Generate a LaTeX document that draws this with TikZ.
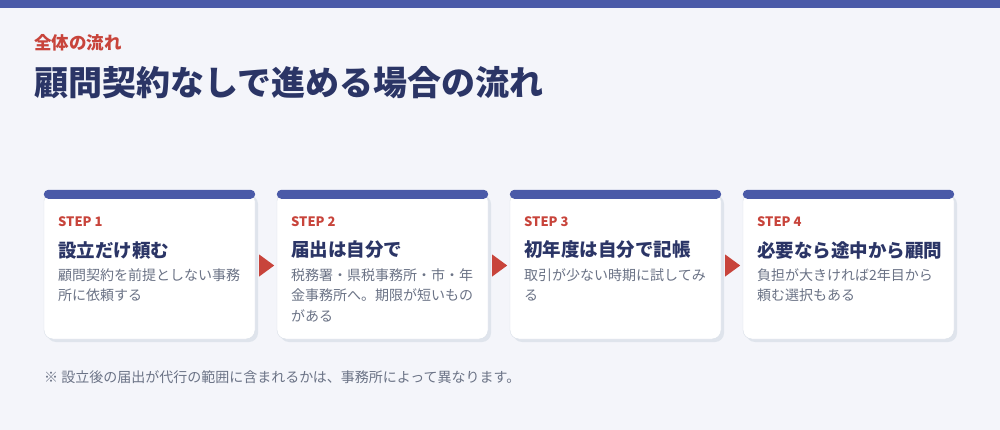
\documentclass[tikz,border=0pt]{standalone}
\usepackage{fontspec}
\setmainfont{Noto Sans CJK JP}
\usetikzlibrary{shadows}
\definecolor{pagebg}{HTML}{F4F5FA}
\definecolor{barblue}{HTML}{4A5AA8}
\definecolor{steprd}{HTML}{C8443B}
\definecolor{navy}{HTML}{2B3566}
\definecolor{bodygray}{HTML}{6B7386}
\definecolor{cardline}{HTML}{D9DFE8}
\definecolor{cardshade}{HTML}{DFE4EC}
\tikzset{
  card/.style={draw=cardline, fill=white, rounded corners=9pt, minimum width=211pt, minimum height=147pt, inner sep=0pt,
    drop shadow={shadow xshift=3pt, shadow yshift=-3pt, fill=cardshade, opacity=1}},
  cardbar/.style={fill=barblue, rounded corners=4.5pt},
  steplabel/.style={anchor=west, inner sep=0pt, text=steprd, font=\bfseries\fontsize{13}{15}\selectfont},
  steptitle/.style={anchor=west, inner sep=0pt, text=navy, font=\bfseries\fontsize{18.5}{22}\selectfont},
  stepbody/.style={anchor=north west, inner sep=0pt, align=left, text=bodygray, font=\fontsize{14}{20.5}\selectfont},
}
\begin{document}
\begin{tikzpicture}[x=1pt, y=-1pt]
  \fill[pagebg] (0,0) rectangle (1000,430);
  \useasboundingbox (0,0) rectangle (1000,430);
  \fill[barblue] (0,0) rectangle (1000,8);
  % headings
  \node[anchor=west, inner sep=0pt, text=steprd, font=\bfseries\fontsize{17.5}{20}\selectfont] (kicker) at (34,43) {全体の流れ};
  \node[anchor=west, inner sep=0pt, text=navy, font=\bfseries\fontsize{34}{38}\selectfont] (title) at (34,83) {顧問契約なしで進める場合の流れ};
  % cards
  \node[card] (c1) at (149.5,265.5) {};
  \node[card] (c2) at (382.5,265.5) {};
  \node[card] (c3) at (615.5,265.5) {};
  \node[card] (c4) at (848.5,265.5) {};
  \fill[cardbar] ([shift={(0,-2)}]c1.north west) rectangle ([shift={(0,7)}]c1.north east);
  \fill[cardbar] ([shift={(0,-2)}]c2.north west) rectangle ([shift={(0,7)}]c2.north east);
  \fill[cardbar] ([shift={(0,-2)}]c3.north west) rectangle ([shift={(0,7)}]c3.north east);
  \fill[cardbar] ([shift={(0,-2)}]c4.north west) rectangle ([shift={(0,7)}]c4.north east);
  % arrows between cards
  \fill[steprd] ([shift={(4,-11)}]c1.east) -- ([shift={(19,0)}]c1.east) -- ([shift={(4,11)}]c1.east) -- cycle;
  \fill[steprd] ([shift={(4,-11)}]c2.east) -- ([shift={(19,0)}]c2.east) -- ([shift={(4,11)}]c2.east) -- cycle;
  \fill[steprd] ([shift={(4,-11)}]c3.east) -- ([shift={(19,0)}]c3.east) -- ([shift={(4,11)}]c3.east) -- cycle;
  % card texts
  \node[steplabel] (s1) at (58,222) {STEP 1};
  \node[steptitle] (t1) at (58,250) {設立だけ頼む};
  \node[stepbody] (b1) at (58,268) {顧問契約を前提としない事務\\所に依頼する};
  \node[steplabel] (s2) at (291,222) {STEP 2};
  \node[steptitle] (t2) at (291,250) {届出は自分で};
  \node[stepbody] (b2) at (291,268) {税務署・県税事務所・市・年\\金事務所へ。期限が短いもの\\がある};
  \node[steplabel] (s3) at (524,222) {STEP 3};
  \node[steptitle] (t3) at (524,250) {初年度は自分で記帳};
  \node[stepbody] (b3) at (524,268) {取引が少ない時期に試してみ\\る};
  \node[steplabel] (s4) at (757,222) {STEP 4};
  \node[steptitle] (t4) at (757,250) {必要なら途中から顧問};
  \node[stepbody] (b4) at (757,268) {負担が大きければ2年目から\\頼む選択もある};
  % note
  \node[anchor=west, inner sep=0pt, text=bodygray, font=\fontsize{14}{16}\selectfont] (note) at (44,377) {※ 設立後の届出が代行の範囲に含まれるかは、事務所によって異なります。};
\end{tikzpicture}
\end{document}
